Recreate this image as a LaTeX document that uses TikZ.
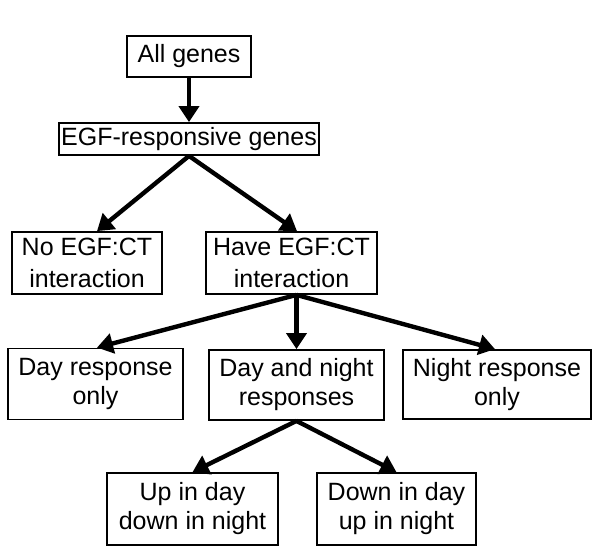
\documentclass[tikz,border=0pt]{standalone}
\usepackage{fontspec}
\setmainfont{Liberation Sans}
\usetikzlibrary{arrows.meta}
\begin{document}
\begin{tikzpicture}[x=0.5pt,y=-0.5pt,
  box/.style={draw,line width=0.9pt,inner sep=0pt,align=center,font=\fontsize{12.5}{14.5}\selectfont},
  boxtall/.style={box,font=\fontsize{12.5}{16}\selectfont},
  arr/.style={line width=2.2pt,-{Triangle[length=8pt,width=10pt]}}]
\useasboundingbox (0,0) rectangle (600,558);
\node[box,minimum width=62pt,minimum height=20.5pt] (all) at (189,56.5) {All genes};
\node[box,minimum width=130pt,minimum height=16pt] (egf) at (189,139) {EGF-responsive genes};
\node[boxtall,minimum width=75pt,minimum height=31pt] (no) at (87,263) {No EGF:CT\\interaction};
\node[boxtall,minimum width=85.5pt,minimum height=31pt] (have) at (291.5,263) {Have EGF:CT\\interaction};
\node[box,minimum width=87.5pt,minimum height=35.5pt] (day) at (95.5,384) {Day response\\only};
\node[box,minimum width=87.5pt,minimum height=35pt] (dn) at (296.5,385) {Day and\ night\\responses};
\node[box,minimum width=94pt,minimum height=34.5pt] (night) at (497,384.5) {Night response\\only};
\node[box,minimum width=85.5pt,minimum height=36pt] (up) at (192.5,509) {Up in day\\down in night};
\node[box,minimum width=79.5pt,minimum height=36pt] (down) at (396.5,509) {Down in day\\up in night};
\draw[arr] (all.south) -- (egf.north);
\draw[arr] (egf.south) -- ([xshift=5pt]no.north);
\draw[arr] (egf.south) -- ([xshift=2.75pt]have.north);
\draw[arr] (have.south -| dn.north) -- ([xshift=0.75pt]day.north);
\draw[arr] (have.south -| dn.north) -- (dn.north);
\draw[arr] (have.south -| dn.north) -- ([xshift=-1pt]night.north);
\draw[arr] (dn.south) -- (up.north);
\draw[arr] (dn.south) -- (down.north);
\end{tikzpicture}
\end{document}
